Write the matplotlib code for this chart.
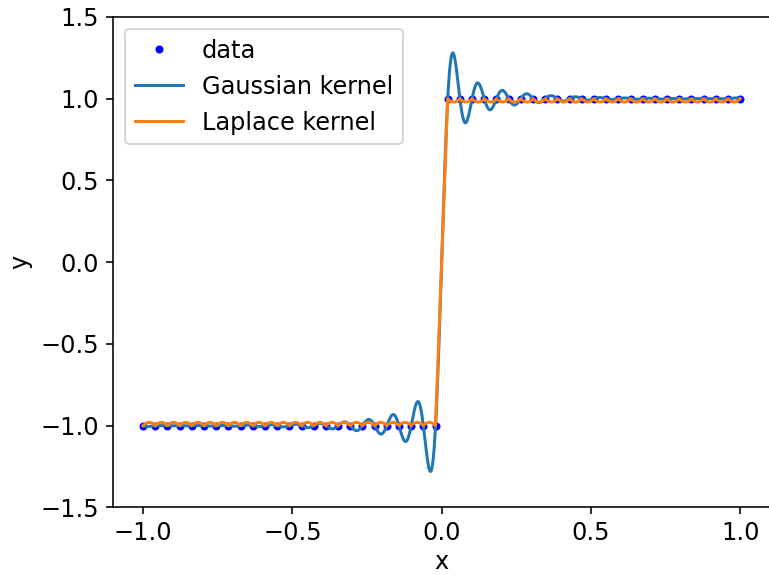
import matplotlib as mpl
mpl.use('Agg')
import matplotlib.pyplot as plt
import numpy as np

plt.rcParams['font.size'] = 12

# training samples of the sign function
x_data = [-1.0000, -0.9592, -0.9184, -0.8776, -0.8367, -0.7959, -0.7551, -0.7143,
          -0.6735, -0.6327, -0.5918, -0.5510, -0.5102, -0.4694, -0.4286, -0.3878,
          -0.3469, -0.3061, -0.2653, -0.2245, -0.1837, -0.1429, -0.1020, -0.0612,
          -0.0204,
          0.0204, 0.0612, 0.1020, 0.1429, 0.1837, 0.2245, 0.2653, 0.3061,
          0.3469, 0.3878, 0.4286, 0.4694, 0.5102, 0.5510, 0.5918, 0.6327,
          0.6735, 0.7143, 0.7551, 0.7959, 0.8367, 0.8776, 0.9184, 0.9592,
          1.0000]
y_data = [-1.0] * 25 + [1.0] * 25

x_ticks = [-1.0, -0.5, 0.0, 0.5, 1.0]
y_ticks = [-1.5, -1.0, -0.5, 0.0, 0.5, 1.0, 1.5]

sigma_gauss = 0.06
sigma_lap = 0.1


def gaussian(a, b):
    d = np.subtract.outer(a, b)
    return np.exp(-d ** 2 / (2 * sigma_gauss ** 2))


def laplace(a, b):
    d = np.subtract.outer(a, b)
    return np.exp(-np.abs(d) / sigma_lap)


def interpolate(kernel, xq):
    xt = np.array(x_data)
    coef = np.linalg.solve(kernel(xt, xt), np.array(y_data))
    return kernel(xq, xt) @ coef


xs = np.linspace(-1, 1, 2000)
y_gauss = interpolate(gaussian, xs)
y_lap = interpolate(laplace, xs)

fig = plt.figure(figsize=(769 / 144, 575 / 144), dpi=144)
ax = fig.add_axes([0.1473, 0.1174, 0.854, 0.8532])

ax.plot(x_data, y_data, 'b.', label='data')
ax.plot(xs, y_gauss, label='Gaussian kernel')
ax.plot(xs, y_lap, label='Laplace kernel')
ax.set_ylim(-1.5, 1.5)
ax.set_xticks(x_ticks)
ax.set_yticks(y_ticks)
ax.set_xlabel('x', labelpad=2.5)
ax.set_ylabel('y')
ax.legend(loc='upper left')

fig.savefig('out.png', dpi=144)
